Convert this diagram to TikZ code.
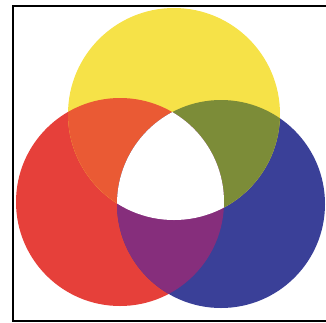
\documentclass[tikz,border=0pt]{standalone}
\usetikzlibrary{calc}
\definecolor{lightyellow}{RGB}{246,226,72}
\definecolor{lightred}{RGB}{230,64,58}
\definecolor{lightblue}{RGB}{58,64,152}
\definecolor{mixorange}{RGB}{234,90,52}
\definecolor{mixgreen}{RGB}{124,140,56}
\definecolor{mixpurple}{RGB}{134,46,124}

\begin{document}
\begin{tikzpicture}[x=1pt,y=-1pt]
        \useasboundingbox (0,0) rectangle (326,322);
        \coordinate (cy) at (174,114);
        \coordinate (cr) at (120,202);
        \coordinate (cb) at (221,204);
        \fill[lightred] (cr) circle (104pt);
        \fill[lightblue] (cb) circle (104pt);
        \fill[lightyellow] (cy) circle (106pt);
        \begin{scope}
            \clip (cy) circle (106pt);
            \fill[mixorange] (cr) circle (104pt);
            \fill[mixgreen] (cb) circle (104pt);
        \end{scope}
        \begin{scope}
            \clip (cr) circle (104pt);
            \fill[mixpurple] (cb) circle (104pt);
            \clip (cb) circle (104pt);
            \fill[white] (cy) circle (106pt);
        \end{scope}
        \draw[line width=2pt] (13,5.5) rectangle (332,320.5);
    \end{tikzpicture}
\end{document}
